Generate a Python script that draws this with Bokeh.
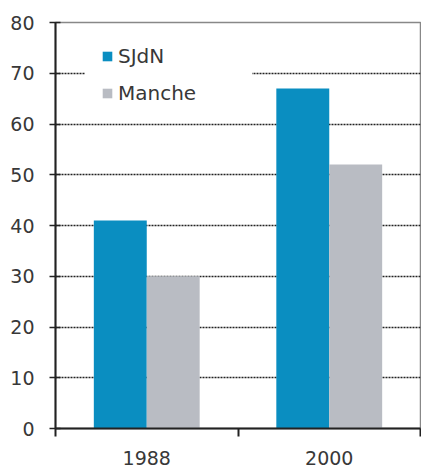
from bokeh.plotting import figure
from bokeh.models import Range1d, FixedTicker, Legend, LegendItem
from bokeh.embed import file_html
from bokeh.resources import INLINE

years = ["1988", "2000"]
sjdn = [41, 67]
manche = [30, 52]
y_ticks = [0, 10, 20, 30, 40, 50, 60, 70, 80]

BLUE = "#0a8ec1"
GREY = "#b9bcc3"
TXT = "#383838"
FONT = "DejaVu Sans"

p = figure(width=421, height=467, output_backend="svg", toolbar_location=None,
           x_range=Range1d(0, len(years)), y_range=Range1d(0, 80),
           min_border_left=55, min_border_right=1, min_border_top=22, min_border_bottom=38)

centers = [i + 0.5 for i in range(len(years))]
w = 0.29
r1 = p.vbar(x=[c - w / 2 for c in centers], top=sjdn, width=w, color=BLUE, line_color=None)
r2 = p.vbar(x=[c + w / 2 for c in centers], top=manche, width=w, color=GREY, line_color=None)

# axes
p.xaxis.ticker = FixedTicker(ticks=centers, minor_ticks=list(range(len(years) + 1)))
p.xaxis.major_label_overrides = {c: y for c, y in zip(centers, years)}
p.xaxis.major_tick_line_color = None
p.xaxis.major_tick_out = 0
p.xaxis.major_tick_in = 0
p.xaxis.minor_tick_line_color = "#222222"
p.xaxis.minor_tick_line_width = 2
p.xaxis.minor_tick_out = 8
p.xaxis.minor_tick_in = 0
p.xaxis.axis_line_color = "#222222"
p.xaxis.axis_line_width = 2
p.xaxis.major_label_text_font = FONT
p.xaxis.major_label_text_font_size = "19px"
p.xaxis.major_label_text_color = TXT
p.xaxis.major_label_standoff = 14

p.yaxis.ticker = FixedTicker(ticks=y_ticks)
p.yaxis.minor_tick_line_color = None
p.yaxis.major_tick_line_color = "#222222"
p.yaxis.major_tick_line_width = 1.5
p.yaxis.major_tick_out = 6
p.yaxis.major_tick_in = 5
p.yaxis.axis_line_color = "#222222"
p.yaxis.axis_line_width = 2
p.yaxis.major_label_text_font = FONT
p.yaxis.major_label_text_font_size = "19px"
p.yaxis.major_label_text_color = TXT
p.yaxis.major_label_standoff = 15

p.xgrid.visible = False
p.ygrid.ticker = FixedTicker(ticks=y_ticks[1:-1])
p.ygrid.grid_line_color = "#222222"
p.ygrid.grid_line_dash = "2 1"
p.ygrid.grid_line_width = 1.5

p.outline_line_color = "#888888"
p.outline_line_width = 1.5
p.background_fill_color = "white"
p.border_fill_color = "white"

legend = Legend(items=[LegendItem(label="SJdN", renderers=[r1]),
                       LegendItem(label="Manche", renderers=[r2])],
                location=(30, 307))
legend.border_line_color = "white"
legend.background_fill_color = "white"
legend.background_fill_alpha = 1
legend.label_text_font = FONT
legend.label_text_font_size = "20px"
legend.label_text_color = TXT
legend.glyph_width = 12
legend.glyph_height = 12
legend.label_standoff = 5
legend.label_width = 118
legend.spacing = 13
legend.margin = 0
legend.padding = 15
p.add_layout(legend)

open("out.html", "w").write(file_html(p, INLINE))
